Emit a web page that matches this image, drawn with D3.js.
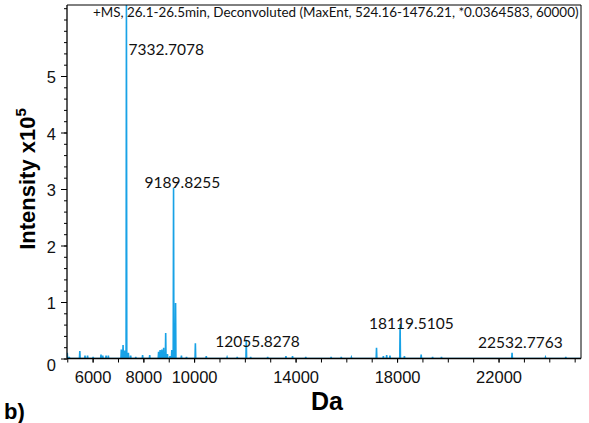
<!DOCTYPE html>
<html>
<head>
<meta charset="utf-8">
<script src="https://cdn.jsdelivr.net/npm/d3@7"></script>
<style>
  html, body { margin: 0; padding: 0; background: #fff; }
  svg { display: block; }
</style>
</head>
<body>
<svg id="chart" width="589" height="423"></svg>
<script>
// Deconvoluted mass spectrum: peak masses (Da) and intensities (x10^5)
const peakMass = [
  5000, 5080, 5495, 5700, 5800, 6020, 6330, 6400, 6530, 6620,
  7130, 7200, 7270, 7332.7078, 7410, 7500, 7700, 7970, 8250,
  8600, 8660, 8730, 8800, 8880, 8950, 9050, 9120, 9189.8255, 9270, 9500, 9700,
  10050, 10480, 11300, 11700, 12055.8278, 12230, 12900, 13620, 13880,
  14400, 15400, 15800, 16200, 17190, 17460, 17590, 17720, 18119.5105, 18290,
  18950, 19400, 19750, 22532.7763, 23850, 24650
];
const peakIntensity = [
  0.10, 0.03, 0.13, 0.05, 0.05, 0.03, 0.07, 0.05, 0.05, 0.05,
  0.16, 0.24, 0.14, 6.60, 0.10, 0.05, 0.03, 0.06, 0.06,
  0.12, 0.15, 0.16, 0.19, 0.45, 0.08, 0.04, 0.15, 3.02, 0.98, 0.05, 0.03,
  0.27, 0.04, 0.02, 0.03, 0.33, 0.03, 0.03, 0.04, 0.04,
  0.03, 0.03, 0.03, 0.02, 0.19, 0.04, 0.06, 0.05, 0.61, 0.04,
  0.07, 0.03, 0.03, 0.10, 0.02, 0.03
];
// Annotated peaks
const labelMass = [7332.7078, 9189.8255, 12055.8278, 18119.5105, 22532.7763];
// Axis ticks
const xTickValues = [6000, 8000, 10000, 14000, 18000, 22000];
const yTickValues = [0, 1, 2, 3, 4, 5];
const titleText = "+MS, 26.1-26.5min, Deconvoluted (MaxEnt, 524.16-1476.21, *0.0364583, 60000)";

const svg = d3.select("#chart");
const plot = { left: 67, right: 581, top: 5, bottom: 358.5 };

const x = d3.scaleLinear().domain([4990, 25250]).range([plot.left, plot.right]);
const y = d3.scaleLinear().domain([0, 5]).range([plot.bottom, plot.bottom - 5 * 56.5]);

svg.append("defs").append("clipPath").attr("id", "plotClip")
  .append("rect")
  .attr("x", plot.left).attr("y", plot.top)
  .attr("width", plot.right - plot.left).attr("height", plot.bottom - plot.top);

// Spectrum trace: each peak rises from the baseline and returns to it
const pts = [];
const order = d3.range(peakMass.length).sort((a, b) => peakMass[a] - peakMass[b]);
pts.push([x.domain()[0], 0]);
order.forEach(i => {
  const m = peakMass[i], h = peakIntensity[i];
  pts.push([m - 14, 0], [m, h], [m + 14, 0]);
});
pts.push([x.domain()[1], 0]);

const line = d3.line().x(d => x(d[0])).y(d => y(d[1]));
svg.append("path")
  .attr("clip-path", "url(#plotClip)")
  .attr("d", line(pts))
  .attr("fill", "none")
  .attr("stroke", "#18a2e6")
  .attr("stroke-width", 1.6)
  .attr("stroke-linejoin", "miter");

// Frame
svg.append("path")
  .attr("d", `M${plot.left},${plot.top}H${plot.right}V${plot.bottom}`)
  .attr("fill", "none").attr("stroke", "#000").attr("stroke-width", 1);

// Y axis with minor ticks every 0.2
const yMinor = d3.range(0, 6.3, 0.2).filter(v => y(v) >= plot.top - 0.5);
svg.append("g")
  .attr("transform", `translate(${plot.left},0)`)
  .call(d3.axisLeft(y).tickValues(yMinor).tickSize(3).tickFormat(""))
  .call(g => g.select(".domain").remove());
const yAxis = svg.append("g")
  .attr("transform", `translate(${plot.left},0)`)
  .call(d3.axisLeft(y).tickValues(yTickValues).tickSize(6).tickPadding(5).tickFormat(d3.format("d")));
yAxis.select(".domain").attr("d", `M0,${plot.top}V${plot.bottom}`).attr("stroke-width", 1.3);
yAxis.selectAll("text")
  .attr("font-family", "Liberation Sans, Arial, sans-serif")
  .attr("font-size", 16.5).attr("fill", "#111")
  .attr("dy", (d) => d === 0 ? "0.7em" : "0.4em");

// X axis with ticks every 1000 Da
const xMinor = d3.range(5000, 25001, 1000);
svg.append("g")
  .attr("transform", `translate(0,${plot.bottom})`)
  .call(d3.axisBottom(x).tickValues(xMinor).tickSize(4).tickFormat(""))
  .call(g => g.select(".domain").remove());
const xAxis = svg.append("g")
  .attr("transform", `translate(0,${plot.bottom})`)
  .call(d3.axisBottom(x).tickValues(xTickValues).tickSize(4).tickPadding(9).tickFormat(d3.format("d")));
xAxis.select(".domain").attr("d", `M${plot.left},0H${plot.right}`).attr("stroke-width", 1.6);
xAxis.selectAll("text")
  .attr("font-family", "Liberation Sans, Arial, sans-serif")
  .attr("font-size", 16.5).attr("fill", "#111");

// Peak annotations (offsets relative to each peak apex)
const labelOffsets = [[2, 55], [-29, 0.5], [-31, 7], [-31, 4.5], [-34, -5]];
svg.append("g").selectAll("text")
  .data(labelMass)
  .join("text")
  .attr("x", (m, i) => x(m) + labelOffsets[i][0])
  .attr("y", (m, i) => {
    const h = peakIntensity[peakMass.indexOf(m)];
    return i === 0 ? labelOffsets[i][1] : y(h) + labelOffsets[i][1];
  })
  .attr("font-family", "Lato, 'Open Sans', sans-serif")
  .attr("font-size", 15.5)
  .attr("fill", "#111")
  .text(m => m.toFixed(4));

// Acquisition title inside the frame
const title = svg.append("text")
  .attr("x", 93).attr("y", 17)
  .attr("font-family", "Lato, 'Open Sans', sans-serif")
  .attr("font-size", 12)
  .attr("fill", "#111")
  .text(titleText);
const tw = title.node().getComputedTextLength();
title.attr("font-size", 12 * 486 / tw);

// Axis titles
const yTitle = svg.append("text")
  .attr("transform", "translate(35,179) rotate(-90)")
  .attr("text-anchor", "middle")
  .attr("font-family", "Liberation Sans, Arial, sans-serif")
  .attr("font-weight", "bold")
  .attr("font-size", 22)
  .attr("fill", "#000");
yTitle.append("tspan").text("Intensity x10");
yTitle.append("tspan").attr("dy", -9).attr("font-size", 15).text("5");

svg.append("text")
  .attr("x", 327).attr("y", 410)
  .attr("text-anchor", "middle")
  .attr("font-family", "Liberation Sans, Arial, sans-serif")
  .attr("font-weight", "bold")
  .attr("font-size", 25)
  .attr("fill", "#000")
  .text("Da");

svg.append("text")
  .attr("x", 4).attr("y", 419)
  .attr("font-family", "Liberation Sans, Arial, sans-serif")
  .attr("font-weight", "bold")
  .attr("font-size", 22)
  .attr("fill", "#000")
  .text("b)");
</script>
</body>
</html>
